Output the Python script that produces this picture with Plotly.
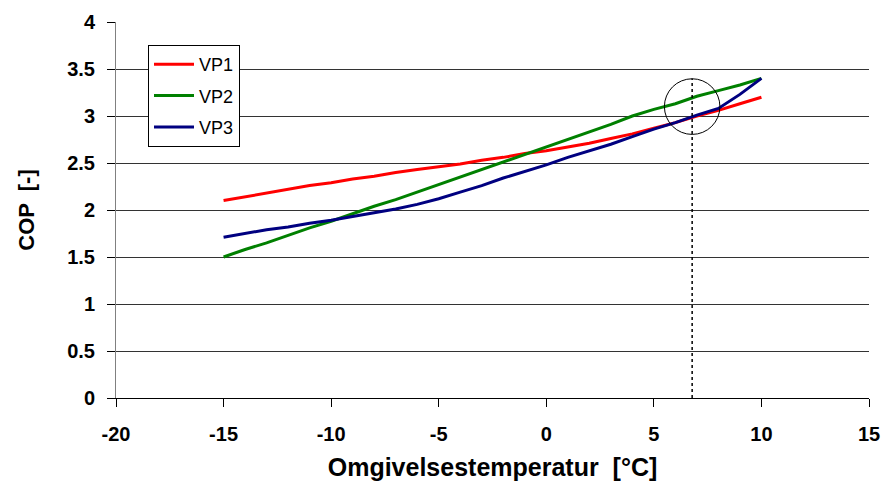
import plotly.graph_objects as go

temps = list(range(-15, 11))
vp1 = [2.10, 2.14, 2.18, 2.22, 2.26, 2.29, 2.33, 2.36, 2.40, 2.43, 2.46, 2.49, 2.53,
       2.56, 2.60, 2.63, 2.67, 2.71, 2.76, 2.81, 2.87, 2.93, 3.00, 3.06, 3.13, 3.20]
vp2 = [1.50, 1.58, 1.65, 1.73, 1.81, 1.88, 1.96, 2.04, 2.11, 2.19, 2.27, 2.35, 2.43,
       2.51, 2.59, 2.67, 2.75, 2.83, 2.91, 3.00, 3.07, 3.13, 3.21, 3.27, 3.33, 3.40]
vp3 = [1.71, 1.75, 1.79, 1.82, 1.86, 1.89, 1.93, 1.97, 2.01, 2.06, 2.12, 2.19, 2.26,
       2.34, 2.41, 2.48, 2.56, 2.63, 2.70, 2.78, 2.86, 2.93, 3.01, 3.08, 3.23, 3.40]
series_names = ["VP1", "VP2", "VP3"]
series_colors = ["#FF0000", "#008000", "#000080"]

x_ticks = [-20, -15, -10, -5, 0, 5, 10, 15]
x_tick_labels = ["-20", "-15", "-10", "-5", "0", "5", "10", "15"]
y_ticks = [0, 0.5, 1, 1.5, 2, 2.5, 3, 3.5, 4]
y_tick_labels = ["0", "0.5", "1", "1.5", "2", "2.5", "3", "3.5", "4"]

mark_x = 6.78
mark_y = 3.10

FONT = "Liberation Sans, Arial, sans-serif"

fig = go.Figure()
for name, vals, col in zip(series_names, [vp1, vp2, vp3], series_colors):
    fig.add_trace(go.Scatter(x=temps, y=vals, mode="lines", name=name,
                             legendgroup=name,
                             line=dict(color=col, width=3)))

fig.add_shape(type="line", xref="x", yref="y", x0=mark_x, x1=mark_x, y0=0, y1=3.40,
              line=dict(color="black", width=1.5, dash="dot"))
fig.add_shape(type="circle", xref="x", yref="y", x0=mark_x - 1.29, x1=mark_x + 1.29,
              y0=mark_y - 0.296, y1=mark_y + 0.296,
              line=dict(color="black", width=1))

fig.update_layout(
    width=882, height=490,
    margin=dict(l=116, r=13, t=22, b=92),
    paper_bgcolor="white", plot_bgcolor="white",
    font=dict(family=FONT, color="black"),
    showlegend=True,
    legend=dict(x=0.0425, y=0.939, xanchor="left", yanchor="top",
                bgcolor="white", bordercolor="black", borderwidth=1,
                font=dict(size=18, color="black", family=FONT),
                traceorder="grouped", tracegroupgap=5,
                itemwidth=40),
    xaxis=dict(range=[-20, 15], tickvals=x_ticks,
               ticktext=["<b>" + t + "</b>" for t in x_tick_labels],
               ticks="outside", ticklen=8, ticklabelstandoff=10,
               tickcolor="black", showline=True, linecolor="black", linewidth=1,
               showgrid=False, zeroline=False, automargin=False,
               tickfont=dict(size=20, family=FONT),
               title=dict(text="<b>Omgivelsestemperatur  [°C]</b>", standoff=14,
                          font=dict(size=25, family=FONT))),
    yaxis=dict(range=[0, 4], tickvals=y_ticks,
               ticktext=["<b>" + t + "</b>" for t in y_tick_labels],
               ticks="outside", ticklen=8, ticklabelstandoff=8,
               tickcolor="black", showline=True, linecolor="#808080",
               linewidth=1, showgrid=True, gridcolor="#333333", gridwidth=1,
               zeroline=False, automargin=False,
               tickfont=dict(size=20, family=FONT),
               title=dict(text="<b>COP  [-]</b>", standoff=26,
                          font=dict(size=22, family=FONT))),
)

fig.write_html("out.html",
               config={"displayModeBar": False},
               post_script="document.body.style.margin='0';document.body.style.overflow='hidden';")
